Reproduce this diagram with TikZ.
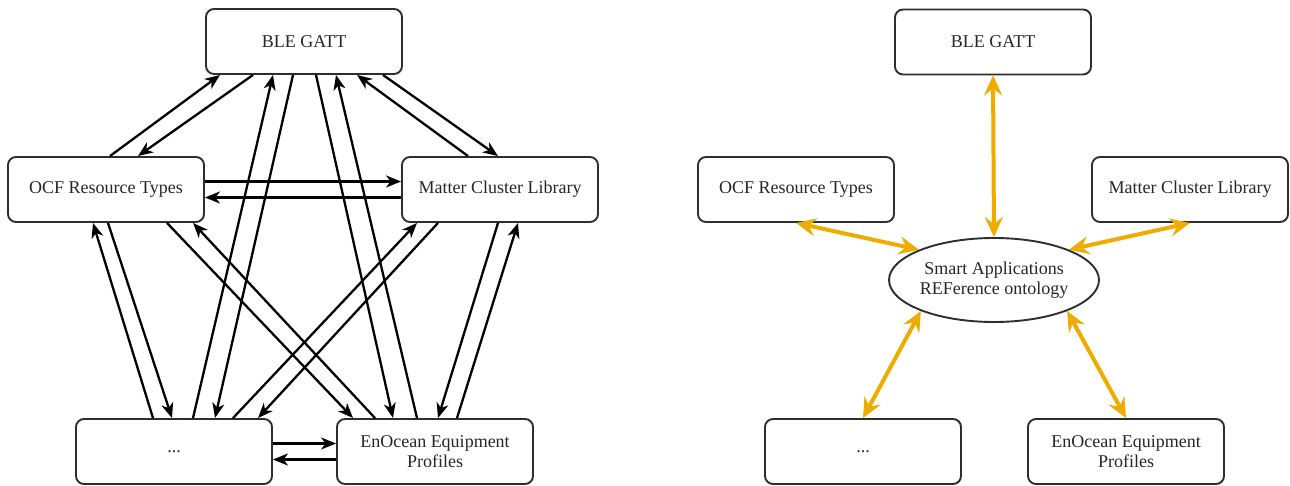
\documentclass[tikz,border=0pt]{standalone}
\usepackage{fontspec}
\setmainfont{Liberation Serif}
\usetikzlibrary{arrows.meta,shapes.geometric}
\definecolor{boxline}{HTML}{2E2E2E}
\definecolor{gold}{HTML}{F0AB00}
\tikzset{
  box/.style={draw=boxline, line width=1.9pt, rounded corners=8pt, minimum width=196pt,
    minimum height=65pt, inner sep=2pt, align=center, font=\fontsize{18}{20.5}\selectfont, text=black!85},
  blk/.style={draw=black, line width=2.3pt, -{Stealth[length=15pt, width=12pt, inset=4.5pt]}},
  gld/.style={draw=gold, line width=4pt, {Stealth[length=20pt, width=18pt, inset=7pt]}-{Stealth[length=20pt, width=18pt, inset=7pt]}},
}
\begin{document}
\begin{tikzpicture}[x=1pt, y=-1pt]
\useasboundingbox (0,0) rectangle (1290,486);
% ---------- left diagram ----------
\node[box] (ble) at (304,41.5) {BLE GATT};
\node[box] (ocf) at (106,189.5) {OCF Resource Types};
\node[box] (mat) at (500,189.5) {Matter Cluster Library};
\node[box] (dot) at (174,451.5) {...};
\node[box] (eno) at (435,451.5) {EnOcean Equipment\\Profiles};
% BLE - OCF
\draw[blk] ([xshift=4pt]ocf.north) -- ([xshift=-84pt]ble.south);
\draw[blk] ([xshift=-51pt]ble.south) -- ([xshift=32pt]ocf.north);
% BLE - Matter
\draw[blk] ([xshift=-32pt]mat.north) -- ([xshift=53pt]ble.south);
\draw[blk] ([xshift=79pt]ble.south) -- ([xshift=-2pt]mat.north);
% OCF - Matter
\draw[blk] ([yshift=8pt]ocf.east) -- ([yshift=8pt]mat.west);
\draw[blk] ([yshift=-8pt]mat.west) -- ([yshift=-8pt]ocf.east);
% BLE - dots
\draw[blk] ([xshift=19pt]dot.north) -- ([xshift=-31pt]ble.south);
\draw[blk] ([xshift=-11pt]ble.south) -- ([xshift=41pt]dot.north);
% BLE - EnOcean
\draw[blk] ([xshift=12pt]ble.south) -- ([xshift=-42pt]eno.north);
\draw[blk] ([xshift=-18pt]eno.north) -- ([xshift=32pt]ble.south);
% OCF - dots
\draw[blk] ([xshift=-21pt]dot.north) -- ([xshift=-13pt]ocf.south);
\draw[blk] ([xshift=2pt]ocf.south) -- ([xshift=-2pt]dot.north);
% OCF - EnOcean
\draw[blk] ([xshift=61pt]ocf.south) -- ([xshift=-82pt]eno.north);
\draw[blk] ([xshift=-60pt]eno.north) -- ([xshift=87pt]ocf.south);
% Matter - dots
\draw[blk] ([xshift=59pt]dot.north) -- ([xshift=-83pt]mat.south);
\draw[blk] ([xshift=-62pt]mat.south) -- ([xshift=84pt]dot.north);
% Matter - EnOcean
\draw[blk] ([xshift=-2pt]mat.south) -- ([xshift=3pt]eno.north);
\draw[blk] ([xshift=22pt]eno.north) -- ([xshift=18pt]mat.south);
% dots - EnOcean
\draw[blk] ([yshift=8pt]dot.east) -- ([yshift=8pt]eno.west);
\draw[blk] ([yshift=-8pt]eno.west) -- ([yshift=-8pt]dot.east);
% ---------- right diagram ----------
\node[box] (rble) at (993,42) {BLE GATT};
\node[box] (rocf) at (796,189.5) {OCF Resource Types};
\node[box] (rmat) at (1190,189.5) {Matter Cluster Library};
\node[box] (rdot) at (863,451.5) {...};
\node[box] (reno) at (1126,451.5) {EnOcean Equipment\\Profiles};
\node[draw=boxline, line width=1.9pt, ellipse, minimum width=198pt, minimum height=84pt,
  inner sep=0pt, align=center, font=\fontsize{18}{20.5}\selectfont, text=black!85] (sare) at (994,280)
  {Smart Applications\\REFerence ontology};
\draw[gld] (rble.south) -- (sare.north);
\draw[gld] (rocf.south) -- (sare.158);
\draw[gld] (rmat.south) -- (sare.22);
\draw[gld] (rdot.north) -- (sare.203);
\draw[gld] (reno.north) -- (sare.337);
\end{tikzpicture}
\end{document}
